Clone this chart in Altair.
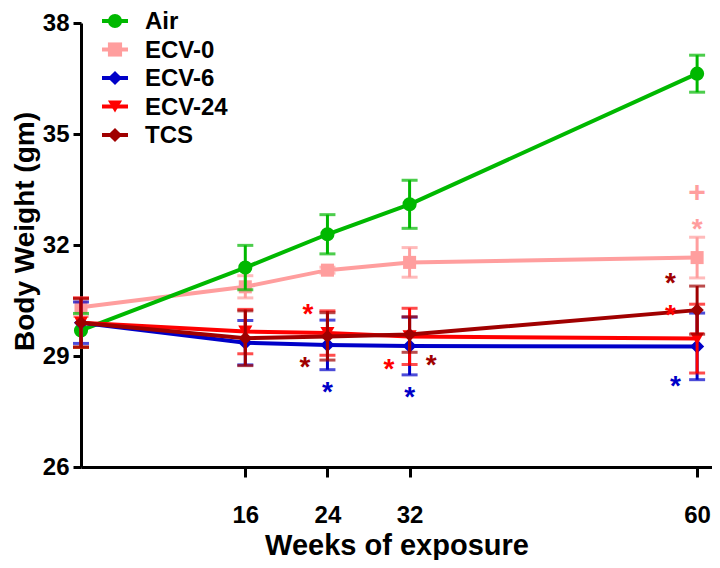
import altair as alt
import pandas as pd

# ---------------- data ----------------
weeks = [0, 16, 24, 32, 60]
series_names = ["Air", "ECV-0", "ECV-6", "ECV-24", "TCS"]

air_mean = [29.69, 31.39, 32.29, 33.10, 36.63]
air_err = [0.46, 0.60, 0.53, 0.65, 0.50]
ecv0_mean = [30.32, 30.87, 31.32, 31.53, 31.66]
ecv0_err = [0.25, 0.30, 0.08, 0.40, 0.55]
ecv6_mean = [29.90, 29.36, 29.30, 29.27, 29.26]
ecv6_err = [0.56, 0.60, 0.67, 0.78, 0.90]
ecv24_mean = [29.90, 29.66, 29.62, 29.53, 29.47]
ecv24_err = [0.67, 0.60, 0.60, 0.76, 0.93]
tcs_mean = [29.90, 29.48, 29.53, 29.58, 30.24]
tcs_err = [0.65, 0.74, 0.64, 0.48, 0.65]

means = [air_mean, ecv0_mean, ecv6_mean, ecv24_mean, tcs_mean]
errs = [air_err, ecv0_err, ecv6_err, ecv24_err, tcs_err]

# significance marks (series, week position, body-weight position, label)
ann_series = ["ECV-0", "ECV-0",
              "ECV-6", "ECV-6", "ECV-6",
              "ECV-24", "ECV-24", "ECV-24",
              "TCS", "TCS", "TCS"]
ann_week = [60.0, 60.0,
            24.0, 32.0, 57.9,
            22.1, 30.0, 57.4,
            21.8, 34.1, 57.4]
ann_value = [33.42, 32.63,
             28.21, 28.08, 28.39,
             30.32, 28.84, 30.30,
             28.89, 28.95, 31.15]
ann_label = ["+", "*",
             "*", "*", "*",
             "*", "*", "*",
             "*", "*", "*"]

x_ticks = [16, 24, 32, 60]
y_ticks = [26, 29, 32, 35, 38]

colors = ["#00B800", "#FF9E9E", "#0000C8", "#FF0000", "#A00000"]
shapes = ["circle", "square", "diamond", "triangle-down", "diamond"]
sizes = [200, 170, 200, 200, 180]

FONT = "Liberation Sans"
X_MAX = 61.45

# ---------------- build ----------------
color_scale = alt.Scale(domain=series_names, range=colors)
shape_scale = alt.Scale(domain=series_names, range=shapes)
x_scale = alt.Scale(domain=[0, X_MAX], nice=False, zero=False)

x_enc = alt.X(
    "week:Q",
    scale=x_scale,
    axis=alt.Axis(values=x_ticks, title="Weeks of exposure", grid=False,
                  tickSize=10, labelPadding=26, titlePadding=4),
)
y_scale = alt.Scale(domain=[26, 38], nice=False, zero=False)
y_axis = alt.Axis(values=y_ticks, title="Body Weight (gm)", grid=False,
                  tickSize=8, labelPadding=4, titlePadding=3, titleY=208)

draw_order = ["ECV-0", "Air", "ECV-6", "ECV-24", "TCS"]
layers = []
for name in draw_order:
    i = series_names.index(name)
    df = pd.DataFrame({
        "week": weeks,
        "mean": means[i],
        "lo": [m - e for m, e in zip(means[i], errs[i])],
        "hi": [m + e for m, e in zip(means[i], errs[i])],
        "series": name,
    })
    base = alt.Chart(df)
    col = alt.Color("series:N", scale=color_scale, legend=None)
    rule = base.mark_rule(strokeWidth=3).encode(
        x=x_enc, y=alt.Y("lo:Q", scale=y_scale, axis=y_axis), y2="hi:Q", color=col)
    cap_lo = base.mark_tick(orient="horizontal", size=16, thickness=3).encode(
        x=x_enc, y=alt.Y("lo:Q", scale=y_scale), color=col)
    cap_hi = base.mark_tick(orient="horizontal", size=16, thickness=3).encode(
        x=x_enc, y=alt.Y("hi:Q", scale=y_scale), color=col)
    line = base.mark_line(strokeWidth=4).encode(
        x=x_enc, y=alt.Y("mean:Q", scale=y_scale), color=col)
    pts = base.mark_point(filled=True, opacity=1, size=sizes[i]).encode(
        x=x_enc, y=alt.Y("mean:Q", scale=y_scale), color=col,
        shape=alt.Shape("series:N", scale=shape_scale, legend=None))
    layers += [rule, cap_lo, cap_hi, line, pts]

ann_df = pd.DataFrame({"series": ann_series, "week": ann_week,
                       "value": ann_value, "label": ann_label})
ann_base = alt.Chart(ann_df).encode(
    x=alt.X("week:Q", scale=x_scale),
    y=alt.Y("value:Q", scale=y_scale),
    text="label:N",
    color=alt.Color("series:N", scale=color_scale, legend=None),
)
stars = ann_base.transform_filter(alt.datum.label == "*").mark_text(
    font=FONT, fontSize=28, fontWeight="bold", align="center", baseline="middle", dy=8)
plus = ann_base.transform_filter(alt.datum.label == "+").mark_text(
    font=FONT, fontSize=30, fontWeight="bold", align="center", baseline="middle", dy=1)
layers += [stars, plus]

main = alt.layer(*layers)

# legend (top-left, inside the plot)
leg_df = pd.DataFrame({"series": series_names, "rank": list(range(len(series_names)))})
leg_y = alt.Y("rank:Q", scale=alt.Scale(domain=[0, 4], range=[-2, 112]), axis=None)
leg_col = alt.Color("series:N", scale=color_scale, legend=None)
leg_base = alt.Chart(leg_df)
leg_line = leg_base.mark_rule(strokeWidth=4).encode(
    x=alt.value(21), x2=alt.value(47), y=leg_y, color=leg_col)
leg_pts = leg_base.mark_point(filled=True, opacity=1, size=200).encode(
    x=alt.value(34), y=leg_y, color=leg_col,
    shape=alt.Shape("series:N", scale=shape_scale, legend=None))
leg_txt = leg_base.mark_text(font=FONT, fontSize=24, fontWeight="bold",
                             align="left", baseline="middle", color="black", dy=1).encode(
    x=alt.value(64), y=leg_y, text="series:N")
legend = alt.layer(leg_line, leg_pts, leg_txt)

chart = alt.layer(main, legend).resolve_scale(y="independent").properties(
    width=631, height=444,
    autosize=alt.AutoSizeParams(type="none"),
    padding={"left": 73, "top": 15, "right": 0, "bottom": 93},
).configure_view(stroke=None).configure_axis(
    domainColor="black", domainWidth=3, tickColor="black", tickWidth=3,
    labelFont=FONT, labelFontSize=24, labelFontWeight="bold", labelColor="black",
    titleFont=FONT, titleFontSize=28, titleFontWeight="bold", titleColor="black",
).configure_axisX(titleFontSize=29)

chart.save("out.html", embed_options={"renderer": "svg", "actions": False})
